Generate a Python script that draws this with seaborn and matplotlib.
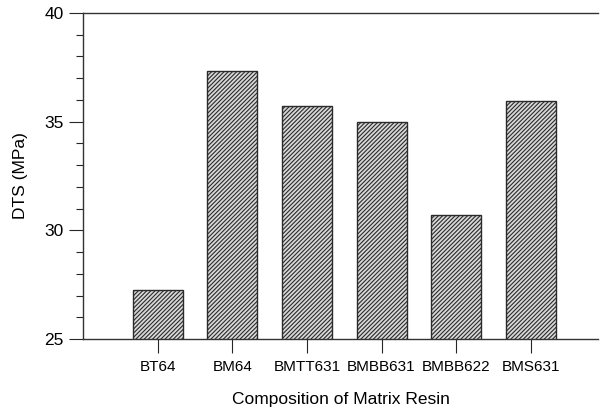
import matplotlib
matplotlib.use("Agg")
import matplotlib.pyplot as plt
import seaborn as sns
import pandas as pd
from matplotlib.ticker import MultipleLocator

categories = ["BT64", "BM64", "BMTT631", "BMBB631", "BMBB622", "BMS631"]
dts_values = [27.27, 37.35, 35.72, 35.0, 30.69, 35.95]

sns.set_style("ticks")
plt.rcParams['font.family'] = ['Liberation Sans', 'DejaVu Sans']
plt.rcParams['hatch.linewidth'] = 0.8

df = pd.DataFrame({"Composition": categories, "DTS": dts_values})

fig = plt.figure(figsize=(6.0, 4.12), dpi=100)
ax = fig.add_axes([83/600, 1-339/412, (598-83)/600, (339-13)/412])

sns.barplot(data=df, x="Composition", y="DTS", ax=ax, color="#d8d8d8",
            width=0.67, edgecolor="#2a2a2a", linewidth=1.0, saturation=1)
for p in ax.patches:
    p.set_hatch("////////")

ax.set_ylim(25, 40)
ax.set_xlim(-1.0, 5.9)
ax.yaxis.set_major_locator(MultipleLocator(5))
ax.yaxis.set_minor_locator(MultipleLocator(1))
ax.tick_params(axis='y', which='major', length=10, width=0.8, labelsize=12.5, pad=4,
               direction='out', labelcolor='black')
ax.tick_params(axis='y', which='minor', length=5, width=0.8, direction='out')
ax.tick_params(axis='x', which='major', length=10, width=0.8, labelsize=11, pad=5,
               direction='out', labelcolor='black')

for s in ["left", "bottom", "top"]:
    ax.spines[s].set_visible(True)
    ax.spines[s].set_linewidth(1.0)
    ax.spines[s].set_color("#333333")
ax.spines["right"].set_visible(False)

ax.set_ylabel("DTS (MPa)", fontsize=12.5, labelpad=12, color='black')
ax.set_xlabel("Composition of Matrix Resin", fontsize=12.5, labelpad=13, color='black')

fig.savefig("out.png", dpi=100)
